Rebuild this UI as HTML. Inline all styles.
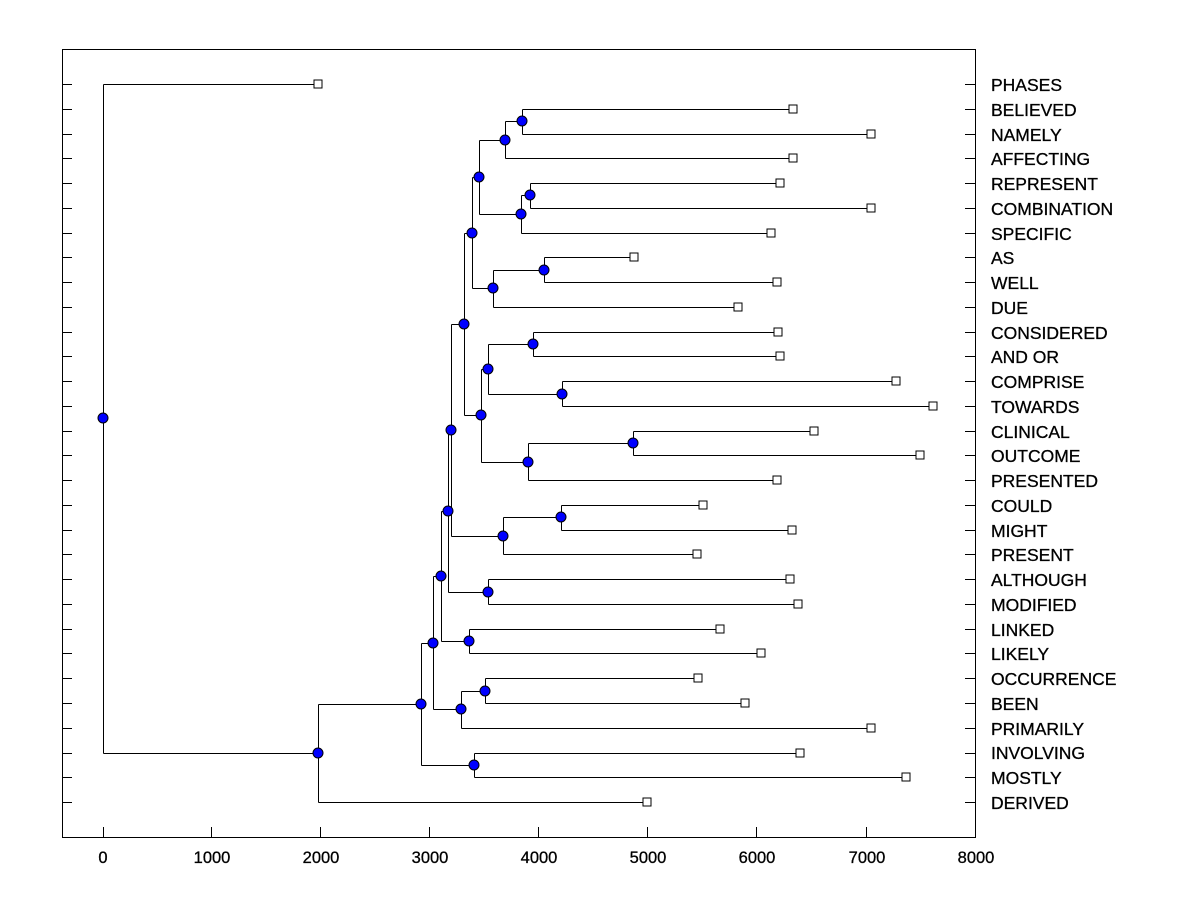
<!DOCTYPE html>
<html><head><meta charset="utf-8"><style>
html,body{margin:0;padding:0;background:#fff;}
svg text{font-family:"Liberation Sans",Arial,sans-serif;}
</style></head><body>
<svg id="s" width="1200" height="900" xmlns="http://www.w3.org/2000/svg" shape-rendering="crispEdges">
<rect x="0" y="0" width="1200" height="900" fill="#fff"/>
<rect x="62.5" y="49.5" width="913" height="788" fill="none" stroke="#000" stroke-width="1"/>
<g font-size="16.5" text-anchor="middle" fill="#000" stroke="#000" stroke-width="0.3">
<text x="103" y="863">0</text><text x="212" y="863">1000</text><text x="321" y="863">2000</text><text x="430" y="863">3000</text><text x="539" y="863">4000</text><text x="648" y="863">5000</text><text x="757" y="863">6000</text><text x="867" y="863">7000</text><text x="976" y="863">8000</text>
</g>
<g font-size="17.5" fill="#000" stroke="#000" stroke-width="0.3" transform="translate(0,1)">
<text x="991" y="90">PHASES</text><text x="991" y="115">BELIEVED</text><text x="991" y="140">NAMELY</text><text x="991" y="164">AFFECTING</text><text x="991" y="189">REPRESENT</text><text x="991" y="214">COMBINATION</text><text x="991" y="239">SPECIFIC</text><text x="991" y="263">AS</text><text x="991" y="288">WELL</text><text x="991" y="313">DUE</text><text x="991" y="338">CONSIDERED</text><text x="991" y="362">AND OR</text><text x="991" y="387">COMPRISE</text><text x="991" y="412">TOWARDS</text><text x="991" y="437">CLINICAL</text><text x="991" y="461">OUTCOME</text><text x="991" y="486">PRESENTED</text><text x="991" y="511">COULD</text><text x="991" y="536">MIGHT</text><text x="991" y="560">PRESENT</text><text x="991" y="585">ALTHOUGH</text><text x="991" y="610">MODIFIED</text><text x="991" y="635">LINKED</text><text x="991" y="659">LIKELY</text><text x="991" y="684">OCCURRENCE</text><text x="991" y="709">BEEN</text><text x="991" y="734">PRIMARILY</text><text x="991" y="758">INVOLVING</text><text x="991" y="783">MOSTLY</text><text x="991" y="808">DERIVED</text>
</g>
<g id="g"></g>
</svg>
<script>
var leafX=[318,793,871,793,780,871,771,634,777,738,778,780,896,933,814,920,777,703,792,697,790,798,720,761,698,745,871,800,906,647];
function Y(i){return 84+24.76*i;}
function L(i){return {leaf:true,x:leafX[i],y:Y(i)};}
function N(x,a,b){return {x:x,a:a,b:b,y:(a.y+b.y)/2};}
var A=N(522,L(1),L(2)),B=N(505,A,L(3)),C=N(530,L(4),L(5)),D=N(521,C,L(6)),E=N(479,B,D);
var F=N(544,L(7),L(8)),G=N(493,F,L(9)),H=N(472,E,G);
var I=N(533,L(10),L(11)),J=N(562,L(12),L(13)),K=N(488,I,J);
var Lc=N(633,L(14),L(15)),M=N(528,Lc,L(16)),Nn=N(481,K,M),O=N(464,H,Nn);
var P=N(561,L(17),L(18)),Q=N(503,P,L(19)),R=N(451,O,Q);
var S=N(488,L(20),L(21)),T=N(448,R,S),U=N(469,L(22),L(23)),V=N(441,T,U);
var W=N(485,L(24),L(25)),X=N(461,W,L(26)),Yn=N(433,V,X);
var Z=N(474,L(27),L(28)),AA=N(421,Yn,Z),BB=N(318,AA,L(29)),root=N(103,L(0),BB);
var s='';var dots='';
function r(v){return Math.round(v)+0.5;}
function draw(n){
 if(n.leaf){s+='<rect x="'+(n.x-4)+'" y="'+(Math.round(n.y)-4)+'" width="8" height="8" fill="#fff" stroke="#000"/>';return;}
 s+='<line x1="'+r(n.x)+'" y1="'+r(n.a.y)+'" x2="'+r(n.x)+'" y2="'+r(n.b.y)+'" stroke="#000"/>';
 [n.a,n.b].forEach(function(c){s+='<line x1="'+r(n.x)+'" y1="'+r(c.y)+'" x2="'+(c.leaf?c.x-4:r(c.x))+'" y2="'+r(c.y)+'" stroke="#000"/>';draw(c);});
 dots+='<circle cx="'+n.x+'" cy="'+Math.round(n.y)+'" r="5" fill="#0000ff" stroke="#000" shape-rendering="auto"/>';
}
draw(root);
for(var i=0;i<30;i++){var y=r(Y(i));s+='<line x1="62" y1="'+y+'" x2="72" y2="'+y+'" stroke="#000"/><line x1="965" y1="'+y+'" x2="975" y2="'+y+'" stroke="#000"/>';}
[103,211,320,429,538,647,756,866].forEach(function(x){s+='<line x1="'+(x+0.5)+'" y1="827" x2="'+(x+0.5)+'" y2="837" stroke="#000"/>';});
document.getElementById('g').innerHTML=s+dots;
</script>
</body></html>
